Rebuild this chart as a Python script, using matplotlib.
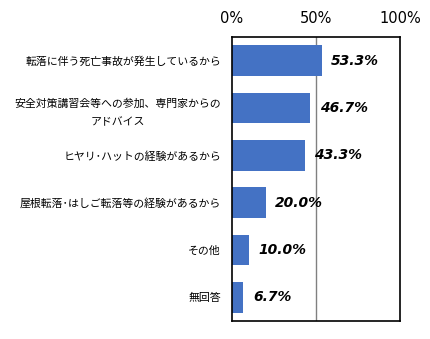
import matplotlib
matplotlib.use("Agg")
import matplotlib.pyplot as plt

plt.rcParams['font.family'] = ['Noto Sans CJK JP', 'DejaVu Sans']

categories = [
    "転落に伴う死亡事故が発生しているから",
    "安全対策講習会等への参加、専門家からの\nアドバイス",
    "ヒヤリ･ハットの経験があるから",
    "屋根転落･はしご転落等の経験があるから",
    "その他",
    "無回答",
]
values = [53.3, 46.7, 43.3, 20.0, 10.0, 6.7]
xticks = [0, 50, 100]
xtick_labels = ["0%", "50%", "100%"]

fig = plt.figure(figsize=(4.30, 3.39), dpi=100)
ax = fig.add_axes([232 / 430, 1 - 321 / 339, 168 / 430, 284 / 339])

ypos = list(range(len(categories)))
ax.barh(ypos, values, height=0.65, color="#4472C4", zorder=2)
ax.set_xlim(0, 100)
ax.set_ylim(len(categories) - 0.5, -0.5)

ax.axvline(50, color="#808080", linewidth=1.0, zorder=1)

ax.xaxis.tick_top()
ax.set_xticks(xticks)
ax.set_xticklabels(xtick_labels, fontsize=10.5, family=['DejaVu Sans'])
ax.tick_params(axis='x', length=0, pad=8)

ax.set_yticks(ypos)
ax.set_yticklabels(categories, fontsize=7.85, multialignment='center', linespacing=2.0)
ax.tick_params(axis='y', length=0, pad=8)

for s in ax.spines.values():
    s.set_color("black")
    s.set_linewidth(1.2)

for y, v in zip(ypos, values):
    ax.annotate(f"{v:.1f}%", xy=(v, y), xytext=(7, 0), textcoords="offset points",
                ha="left", va="center", fontsize=10, fontweight="bold",
                fontstyle="italic", family=['DejaVu Sans'], color="black")

fig.savefig("out.png", dpi=100)
